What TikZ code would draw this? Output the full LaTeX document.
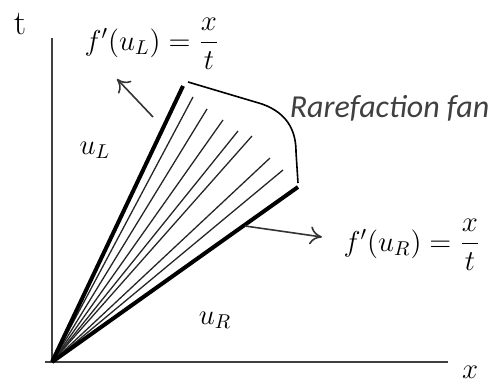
\documentclass[tikz,border=0pt]{standalone}
\usepackage{amsmath}
\usepackage{fontspec}
\newfontfamily\fanfont{Carlito}
\usetikzlibrary{arrows.meta}
\tikzset{
  every picture/.style={line width=0.8pt},
  axis/.style={line width=0.9pt, draw=black!75},
  edge/.style={line width=2pt},
  ray/.style={line width=0.65pt, draw=black!85},
  leader/.style={-{To[length=6pt, width=9pt]}, line width=0.8pt, draw=black!80},
  lbl/.style={font=\Large, inner sep=1pt},
}

\begin{document}
\begin{tikzpicture}[x=0.5pt, y=-0.5pt]
  \useasboundingbox (0,0) rectangle (490,384);
  % axes
  \coordinate (O) at (52,362);
  \coordinate (ttop) at (52,38);
  \coordinate (xleft) at (45,362);
  \coordinate (xright) at (448,362);
  \draw[axis] (O) -- (ttop);
  \draw[axis] (xleft) -- (xright);
  \node[lbl, font=\LARGE\rmfamily] (tlab) at (20,24) {t};
  \node[lbl] (xlab) at (470,372) {$x$};
  % fan of characteristics
  \coordinate (L) at (183,86);
  \coordinate (R) at (298,187);
  \foreach \px/\py [count=\i] in {193/97, 207/109, 223/120, 238/131, 252/136, 270/158, 283/170}
    \draw[ray] (O) -- (\px,\py) coordinate (r\i);
  \draw[edge] (O) -- (L);
  \draw[edge] (O) -- (R);
  % brace round the fan
  \coordinate (b1) at (188,82);
  \coordinate (b2) at (262,104);
  \coordinate (b3) at (298,183);
  \draw[line width=0.8pt] (b1) -- (b2) .. controls (290,114) and (296,134) .. (296,152) -- (b3);
  \node[font=\fanfont\itshape\fontsize{16}{19}\selectfont, text=black!75, anchor=west, inner sep=0pt] (fan) at (289,108) {Rarefaction fan};
  % states
  \node[lbl] (uL) at (95,150) {$u_L$};
  \node[lbl] (uR) at (215,320) {$u_R$};
  % speeds of the edges
  \node[lbl] (fL) at (152,44) {$f'(u_L)=\dfrac{x}{t}$};
  \node[lbl] (fR) at (412,245) {$f'(u_R)=\dfrac{x}{t}$};
  \coordinate (aL0) at (153,117);
  \coordinate (aL1) at (117,79);
  \coordinate (aR0) at (245,226);
  \coordinate (aR1) at (322,237);
  \draw[leader] (aL0) -- (aL1);
  \draw[leader] (aR0) -- (aR1);
\end{tikzpicture}
\end{document}
